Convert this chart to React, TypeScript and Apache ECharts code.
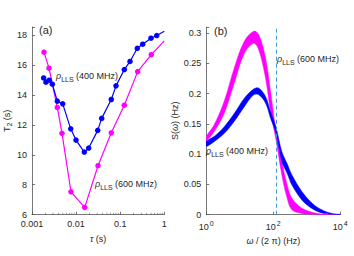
import React, { useEffect, useRef } from "react";
import * as echarts from "echarts";

// ---- Panel (a): T2 vs tau ----
const tau400 = [0.00184, 0.00207, 0.00247, 0.00289, 0.00375, 0.00497, 0.00755, 0.00996, 0.01535, 0.0193, 0.0309, 0.038, 0.0628, 0.0803, 0.124, 0.167, 0.244, 0.324, 0.499, 0.673, 1];
const t2400 = [15.13, 14.85, 14.98, 14.71, 13.58, 13.4, 11.73, 10.98, 10.18, 10.45, 11.63, 12.43, 13.69, 14.6, 15.69, 16.23, 17.11, 17.38, 17.78, 17.96, 18.25];
const tau600 = [0.00187, 0.00243, 0.00375, 0.00479, 0.00765, 0.01567, 0.0314, 0.0628, 0.124, 0.249, 0.507, 1];
const t2600 = [16.85, 15.78, 13.16, 11.43, 7.53, 6.49, 9.27, 11.47, 13.31, 15.55, 16.68, 17.6];

// ---- Panel (b): S(omega) bands ----
const freq = [1, 1.7, 3.4, 6.8, 13.5, 26, 37, 59, 83, 120, 180, 260, 360, 720, 1450, 2800, 5600, 10000];
const mag600Upper = [0.129, 0.148, 0.187, 0.242, 0.286, 0.303, 0.297, 0.258, 0.203, 0.138, 0.0875, 0.049, 0.027, 0.0105, 0.004, 0.001, 0.0003, 0];
const mag600Lower = [0.122, 0.137, 0.167, 0.217, 0.266, 0.283, 0.272, 0.225, 0.17, 0.124, 0.0655, 0.027, 0.008, 0.002, 0.0005, 0, 0, 0];
const blue400Upper = [0.121, 0.129, 0.145, 0.167, 0.192, 0.2075, 0.209, 0.195, 0.17, 0.145, 0.104, 0.084, 0.0655, 0.038, 0.019, 0.008, 0.002, 0.0005];
const blue400Lower = [0.113, 0.1205, 0.134, 0.154, 0.178, 0.198, 0.198, 0.184, 0.159, 0.135, 0.0875, 0.068, 0.049, 0.024, 0.01, 0.003, 0.0008, 0];
const lls600Freq = 123;

const leftYTicks = [6, 8, 10, 12, 14, 16, 18];
const rightYTicks = [0, 0.05, 0.1, 0.15, 0.2, 0.25, 0.3];
const leftMinorTicks = [0.002, 0.003, 0.004, 0.005, 0.006, 0.007, 0.008, 0.009, 0.02, 0.03, 0.04, 0.05, 0.06, 0.07, 0.08, 0.09, 0.2, 0.3, 0.4, 0.5, 0.6, 0.7, 0.8, 0.9];

const MAG = "#FF00FF";
const BLUE = "#0000FF";
const TXT = "#262626";
const AX = "#555555";
const FONT = "'Liberation Sans', Arial, Helvetica, sans-serif";

const llsRich = {
  r: { fontSize: 9, fontStyle: "italic", fontFamily: FONT, fill: TXT, color: TXT },
  s: { fontSize: 7, fontFamily: FONT, fill: TXT, color: TXT, padding: [6, 0, 0, 0] },
  t: { fontSize: 9, fontFamily: FONT, fill: TXT, color: TXT },
};

function llsText(x: number, y: number, mhz: string) {
  return {
    type: "text",
    x,
    y,
    silent: true,
    z: 100,
    style: {
      text: `{r|ρ}{s|LLS}{t| (${mhz} MHz)}`,
      rich: llsRich,
      verticalAlign: "middle",
      align: "left",
      fill: TXT,
      fontFamily: FONT,
    },
  };
}

function bandSeries(upper: number[], lower: number[], color: string, z: number, extra: any = {}) {
  return {
    type: "custom",
    coordinateSystem: "cartesian2d",
    xAxisIndex: 1,
    yAxisIndex: 1,
    clip: true,
    silent: true,
    z,
    data: [[freq[0], lower[0]]],
    encode: { x: 0, y: 1 },
    renderItem: (_params: any, api: any) => {
      const top = freq.map((f, i) => api.coord([f, upper[i]]));
      const bot = freq.map((f, i) => api.coord([f, lower[i]])).reverse();
      return {
        type: "group",
        children: [
          {
            type: "polygon",
            shape: { points: top.concat(bot), smooth: 0.35 },
            style: { fill: color, stroke: color, lineWidth: 0.5 },
          },
        ],
      };
    },
    ...extra,
  };
}

export default function App() {
  const ref = useRef<HTMLDivElement>(null);
  useEffect(() => {
    document.body.style.margin = "0";
    const chart = echarts.init(ref.current!, null, { renderer: "svg" });
    const axisCommon = {
      axisLine: { show: true, lineStyle: { color: AX, width: 0.8 } },
      axisTick: { show: true, inside: true, length: 3, lineStyle: { color: AX, width: 0.8 } },
      splitLine: { show: false },
      axisLabel: { color: TXT, fontSize: 9, fontFamily: FONT },
    };
    const option: any = {
      animation: false,
      backgroundColor: "#ffffff",
      grid: [
        { left: 32, right: 189.7, top: 27, bottom: 41.3, outerBoundsMode: "none" },
        { left: 206.3, right: 13.7, top: 27, bottom: 41.3, outerBoundsMode: "none" },
      ],
      xAxis: [
        {
          ...axisCommon,
          type: "log",
          gridIndex: 0,
          min: 0.001,
          max: 1,
          logBase: 10,
          axisLabel: {
            ...axisCommon.axisLabel,
            margin: 5,
            formatter: (v: number) => {
              const e = Math.round(Math.log10(v));
              return ["0.001", "0.01", "0.1", "1"][e + 3] ?? "";
            },
          },
          name: "{i|τ}{t| (s)}",
          nameLocation: "middle",
          nameGap: 20,
          nameTextStyle: {
            color: TXT,
            fontSize: 9,
            fontFamily: FONT,
            rich: {
              i: { fontSize: 9, fontStyle: "italic", fontFamily: FONT, color: TXT },
              t: { fontSize: 9, fontFamily: FONT, color: TXT },
            },
          },
        },
        {
          ...axisCommon,
          type: "log",
          gridIndex: 1,
          min: 1,
          max: 10000,
          logBase: 100,
          axisLabel: {
            ...axisCommon.axisLabel,
            margin: 5,
            formatter: (v: number) => `{b|10}{e|${Math.round(Math.log10(v))}}`,
            rich: {
              b: { fontSize: 9, fontFamily: FONT, color: TXT },
              e: { fontSize: 7, fontFamily: FONT, color: TXT, padding: [0, 0, 7, 1] },
            },
          },
          name: "{i|ω}{t| / (2 π) (Hz)}",
          nameLocation: "middle",
          nameGap: 20,
          nameTextStyle: {
            color: TXT,
            fontSize: 9,
            fontFamily: FONT,
            rich: {
              i: { fontSize: 9, fontStyle: "italic", fontFamily: FONT, color: TXT },
              t: { fontSize: 9, fontFamily: FONT, color: TXT },
            },
          },
        },
      ],
      yAxis: [
        {
          ...axisCommon,
          type: "value",
          gridIndex: 0,
          min: 6,
          max: 18.53,
          interval: 2,
          axisLabel: {
            ...axisCommon.axisLabel,
            margin: 5,
            formatter: (v: number) => (leftYTicks.some((t) => Math.abs(t - v) < 1e-6) ? String(v) : ""),
          },
          name: "{t|T}{s|2}{t| (s)}",
          nameLocation: "middle",
          nameRotate: 90,
          nameGap: 18,
          nameTextStyle: {
            color: TXT,
            fontSize: 9,
            fontFamily: FONT,
            rich: {
              t: { fontSize: 9, fontFamily: FONT, color: TXT },
              s: { fontSize: 7, fontFamily: FONT, color: TXT, padding: [5, 0, 0, 0] },
            },
          },
        },
        {
          ...axisCommon,
          type: "value",
          gridIndex: 1,
          min: 0,
          max: 0.31,
          interval: 0.05,
          axisLabel: {
            ...axisCommon.axisLabel,
            margin: 5,
            formatter: (v: number) => {
              const hit = rightYTicks.find((t) => Math.abs(t - v) < 1e-6);
              return hit === undefined ? "" : String(hit);
            },
          },
          name: "{t|S(}{i|ω}{t|) (Hz)}",
          nameLocation: "middle",
          nameRotate: 90,
          nameGap: 20,
          nameTextStyle: {
            color: TXT,
            fontSize: 9,
            fontFamily: FONT,
            rich: {
              t: { fontSize: 9, fontFamily: FONT, color: TXT },
              i: { fontSize: 9, fontStyle: "italic", fontFamily: FONT, color: TXT },
            },
          },
        },
      ],
      series: [
        {
          type: "scatter",
          xAxisIndex: 0,
          yAxisIndex: 0,
          silent: true,
          symbol: "rect",
          symbolSize: [0.7, 2],
          symbolOffset: [0, -1],
          itemStyle: { color: AX },
          data: leftMinorTicks.map((v) => [v, 6]),
          z: 1,
        },
        {
          type: "line",
          xAxisIndex: 0,
          yAxisIndex: 0,
          symbol: "circle",
          symbolSize: 5.5,
          lineStyle: { color: BLUE, width: 1.2 },
          itemStyle: { color: BLUE },
          data: tau400.map((t, i) =>
            i === tau400.length - 1 ? { value: [t, t2400[i]], symbol: "none" } : [t, t2400[i]]
          ),
          z: 3,
        },
        {
          type: "line",
          xAxisIndex: 0,
          yAxisIndex: 0,
          symbol: "circle",
          symbolSize: 5.5,
          lineStyle: { color: MAG, width: 1.2 },
          itemStyle: { color: MAG },
          data: tau600.map((t, i) =>
            i === tau600.length - 1 ? { value: [t, t2600[i]], symbol: "none" } : [t, t2600[i]]
          ),
          z: 2,
        },
        bandSeries(mag600Upper, mag600Lower, MAG, 2),
        bandSeries(blue400Upper, blue400Lower, BLUE, 3),
        {
          type: "line",
          xAxisIndex: 1,
          yAxisIndex: 1,
          symbol: "none",
          silent: true,
          lineStyle: { opacity: 0 },
          data: [],
          z: 4,
          markLine: {
            silent: true,
            symbol: "none",
            label: { show: false },
            lineStyle: { color: "#3D9BD6", type: [4, 3], width: 1 },
            data: [{ xAxis: lls600Freq }],
          },
        },
      ],
      graphic: [
        {
          type: "text",
          x: 39,
          y: 30,
          silent: true,
          style: { text: "(a)", fontSize: 11, fontFamily: FONT, fill: TXT, verticalAlign: "middle" },
        },
        {
          type: "text",
          x: 214,
          y: 31,
          silent: true,
          style: { text: "(b)", fontSize: 11, fontFamily: FONT, fill: TXT, verticalAlign: "middle" },
        },
        llsText(56, 76, "400"),
        llsText(95, 184, "600"),
        llsText(277, 59, "600"),
        llsText(206, 151, "400"),
      ],
    };
    chart.setOption(option);
    return () => chart.dispose();
  }, []);
  return <div ref={ref} style={{ width: 354, height: 256 }} />;
}
